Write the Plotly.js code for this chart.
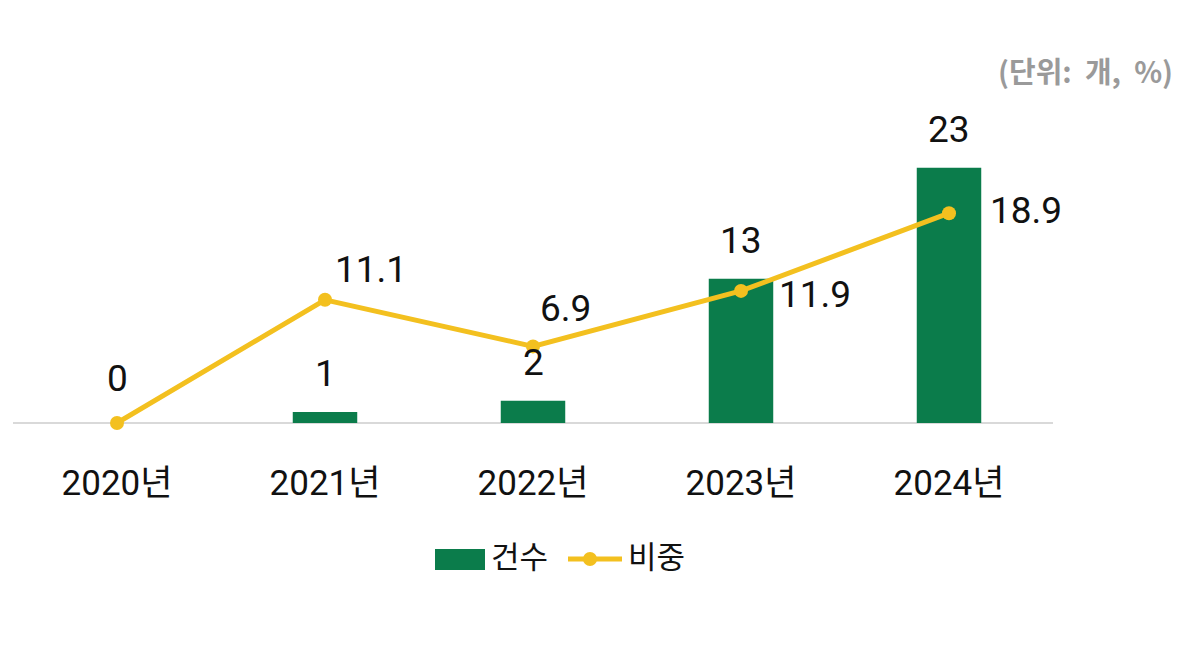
<!DOCTYPE html>
<html><head><meta charset="utf-8">
<script src="https://cdn.plot.ly/plotly-3.0.1.min.js"></script>
<style>body{margin:0;background:#fff}#c{width:1189px;height:665px}</style>
</head><body><div id="c"></div>
<script>
const categories = ['2020년','2021년','2022년','2023년','2024년'];
const counts = [0, 1, 2, 13, 23];
const shares = [0, 11.1, 6.9, 11.9, 18.9];
const barName = '건수';
const lineName = '비중';
const unitText = '(단위:\u00a0\u00a0개,\u00a0\u00a0%)';

const FONT = 'Roboto, "Noto Sans CJK KR", sans-serif';
const GREEN = '#0b7c4b';
const YELLOW = '#f3c01f';

// label offsets (px) for line labels
const lineLabelShift = [[0,45],[46,30],[32,38],[74,-4],[77,3]];

const traces = [
  {type:'bar', x:categories, y:counts, name:barName, marker:{color:GREEN}, width:0.31, showlegend:false, hoverinfo:'none'},
  {type:'scatter', mode:'lines+markers', x:categories, y:shares, name:lineName,
   line:{color:YELLOW, width:5}, marker:{color:YELLOW, size:14}, showlegend:false, hoverinfo:'none', cliponaxis:false}
];

const L=13, R=136, T=101, B=242, W=1189, H=665;
const pw = W-L-R, ph = H-T-B;
const px = v => (v-L)/pw;
const py = v => (H-B-v)/ph;

const annotations = [];
categories.forEach((c,i)=>{
  if (counts[i] > 0) {
    annotations.push({x:c, y:counts[i], xref:'x', yref:'y', text:String(counts[i]), showarrow:false,
      yshift:38, font:{family:FONT, size:37, color:'#111'}});
  }
  annotations.push({x:c, y:shares[i], xref:'x', yref:'y', text:String(shares[i]), showarrow:false,
    xshift:lineLabelShift[i][0], yshift:lineLabelShift[i][1], font:{family:FONT, size:37, color:'#111'}});
});
annotations.push({xref:'paper', yref:'paper', x:px(1175), y:py(70), xanchor:'right', yanchor:'middle',
  text:'<b>'+unitText+'</b>', showarrow:false, font:{family:'"Noto Sans CJK KR", sans-serif', size:29, color:'#9a9a9a'}});
// legend texts
annotations.push({xref:'paper', yref:'paper', x:px(489), y:py(557), xanchor:'left', yanchor:'middle',
  text:barName, showarrow:false, font:{family:FONT, size:31, color:'#111'}});
annotations.push({xref:'paper', yref:'paper', x:px(626), y:py(557), xanchor:'left', yanchor:'middle',
  text:lineName, showarrow:false, font:{family:FONT, size:31, color:'#111'}});

const shapes = [
  {type:'rect', xref:'paper', yref:'paper', x0:px(435), x1:px(485), y0:py(549), y1:py(570), fillcolor:GREEN, line:{width:0}},
  {type:'line', xref:'paper', yref:'paper', x0:px(568), x1:px(622), y0:py(559), y1:py(559), line:{color:YELLOW, width:5}},
  {type:'circle', xref:'paper', yref:'paper', x0:px(583), x1:px(597), y0:py(552), y1:py(566), fillcolor:YELLOW, line:{width:0}}
];

const layout = {
  width:W, height:H,
  margin:{l:L, r:R, t:T, b:B, pad:0},
  paper_bgcolor:'#fff', plot_bgcolor:'#fff',
  showlegend:false,
  xaxis:{type:'category', range:[-0.5, categories.length-0.5], showgrid:false, zeroline:false, showline:false, ticks:'',
    tickfont:{family:FONT, size:35, color:'#111'}, ticklabelstandoff:36, fixedrange:true},
  yaxis:{range:[0, ph/11.1], visible:true, showgrid:false, zeroline:true, zerolinecolor:'#d9d9d9', zerolinewidth:1.5,
    showticklabels:false, ticks:'', showline:false, fixedrange:true},
  annotations, shapes
};
Plotly.newPlot('c', traces, layout, {displayModeBar:false, staticPlot:true});
</script></body></html>
